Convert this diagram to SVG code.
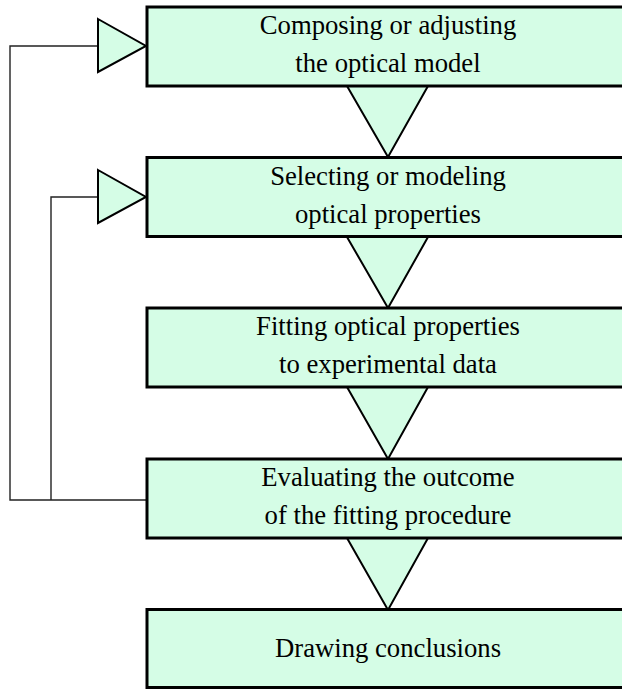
<svg xmlns="http://www.w3.org/2000/svg" width="622" height="689" viewBox="0 0 622 689">
<style>
.box{fill:#d5fde6;stroke:#000;stroke-width:3}
.tri{fill:#d5fde6;stroke:#000;stroke-width:2;stroke-linejoin:miter}
.ln{fill:none;stroke:#222;stroke-width:1.4}
text{font-family:"Liberation Serif","Times New Roman",serif;font-size:26.7px;fill:#000;text-anchor:middle}
</style>
<rect width="622" height="689" fill="#fff"/>
<g id="connectors">
<path class="ln" d="M98,46 H10 V500 H147"/>
<path class="ln" d="M98,197 H51 V500"/>
<polygon class="tri" points="347,86 428,86 388,157"/>
<polygon class="tri" points="347,237 428,237 388,308"/>
<polygon class="tri" points="347,387 428,387 388,459"/>
<polygon class="tri" points="347,538 428,538 388,610"/>
<polygon class="tri" points="98,19 146,46 98,72"/>
<polygon class="tri" points="98,170 146,197 98,223"/>
</g>
<g id="n1"><rect class="box" x="147" y="7" width="500" height="79"/>
<text x="388" y="34">Composing or adjusting</text><text x="388" y="72">the optical model</text></g>
<g id="n2"><rect class="box" x="147" y="157.5" width="500" height="79"/>
<text x="388" y="185">Selecting or modeling</text><text x="388" y="223">optical properties</text></g>
<g id="n3"><rect class="box" x="147" y="308" width="500" height="79"/>
<text x="388" y="335">Fitting optical properties</text><text x="388" y="373">to experimental data</text></g>
<g id="n4"><rect class="box" x="147" y="459" width="500" height="79"/>
<text x="388" y="486">Evaluating the outcome</text><text x="388" y="524">of the fitting procedure</text></g>
<g id="n5"><rect class="box" x="147" y="609.5" width="500" height="78"/>
<text x="388" y="657">Drawing conclusions</text></g>
</svg>
